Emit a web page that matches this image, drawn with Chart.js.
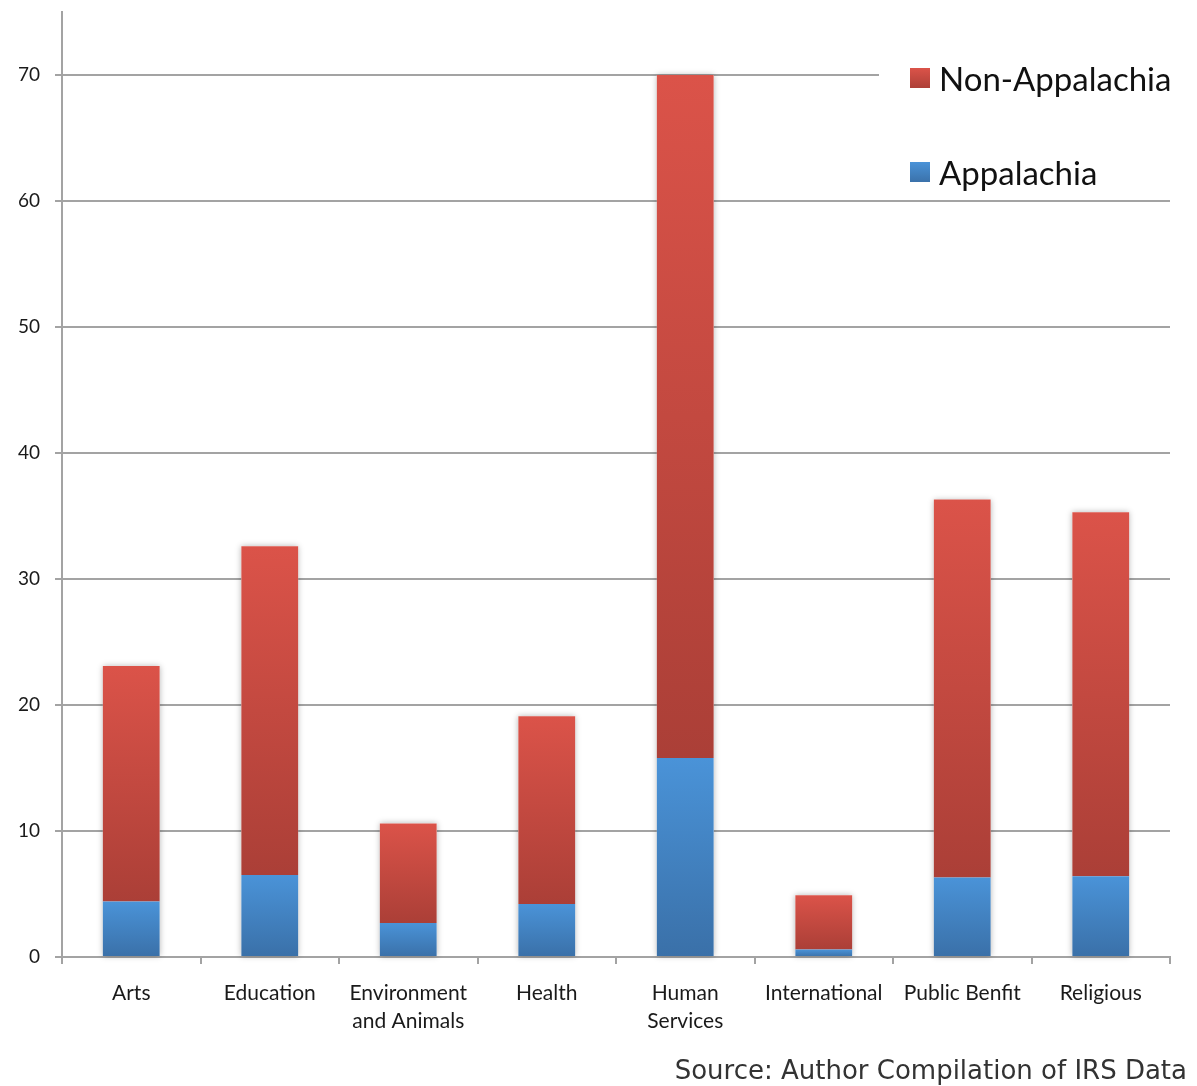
<!DOCTYPE html>
<html>
<head>
<meta charset="utf-8">
<script src="https://cdn.jsdelivr.net/npm/chart.js@4.4.1/dist/chart.umd.min.js"></script>
<style>
  html, body { margin: 0; padding: 0; background: #ffffff; }
  #wrap { position: relative; width: 1197px; height: 1086px; }
</style>
</head>
<body>
<div id="wrap"><canvas id="chart" width="1197" height="1086"></canvas></div>
<script>
// Nonprofit counts by sector, split by region
const categories = ["Arts", "Education", ["Environment", "and Animals"], "Health",
                    ["Human", "Services"], "International", "Public Benfit", "Religious"];
const appalachia    = [4.4, 6.5, 2.7, 4.2, 15.8, 0.6, 6.3, 6.4];
const nonAppalachia = [18.7, 26.1, 7.9, 14.9, 54.2, 4.3, 30.0, 28.9];
const yTicks = [0, 10, 20, 30, 40, 50, 60, 70];
const seriesNames = ["Appalachia", "Non-Appalachia"];
const sourceNote = "Source: Author Compilation of IRS Data";

const BODY_FONT = "Lato, 'Open Sans', sans-serif";
const AXIS_GREY = "#a3a3a3";

const palette = {
  blue: { top: "#4a93d8", bottom: "#3a70a8" },
  red:  { top: "#db5349", bottom: "#ab3f37" }
};

// Vertical gradient spanning one stacked segment
function segmentFill(colors, lowerOf) {
  return function (ctx) {
    const chart = ctx.chart;
    if (ctx.type !== "data" || !chart.chartArea) return colors.top;
    const y = chart.scales.y;
    const i = ctx.dataIndex;
    const base = lowerOf(i);
    const top = base + ctx.dataset.data[i];
    const y0 = y.getPixelForValue(base);
    const y1 = y.getPixelForValue(top);
    if (!isFinite(y0) || !isFinite(y1) || y0 === y1) return colors.top;
    const g = chart.ctx.createLinearGradient(0, y1, 0, y0);
    g.addColorStop(0, colors.top);
    g.addColorStop(1, colors.bottom);
    return g;
  };
}

// Soft shadow behind each full stacked column
const columnShadow = {
  id: "columnShadow",
  beforeDatasetsDraw(chart) {
    const metaA = chart.getDatasetMeta(0);
    const metaB = chart.getDatasetMeta(1);
    const c = chart.ctx;
    c.save();
    c.shadowColor = "rgba(0,0,0,0.28)";
    c.shadowBlur = 6;
    c.fillStyle = "#ffffff";
    metaA.data.forEach((bar, i) => {
      const topBar = metaB.data[i];
      const half = bar.width / 2;
      const yTop = topBar.y;
      const yBot = bar.base;
      c.fillRect(bar.x - half, yTop, bar.width, yBot - yTop);
    });
    c.restore();
  }
};

// Legend inside the plot, top right, and the source line
const sideNotes = {
  id: "sideNotes",
  afterDraw(chart) {
    const c = chart.ctx;
    c.save();
    c.fillStyle = "#ffffff";
    c.fillRect(879, 56, 300, 138);
    const items = [
      { label: seriesNames[1], colors: palette.red,  y: 79 },
      { label: seriesNames[0], colors: palette.blue, y: 173 }
    ];
    items.forEach(it => {
      const g = c.createLinearGradient(0, it.y - 11, 0, it.y + 10);
      g.addColorStop(0, it.colors.top);
      g.addColorStop(1, it.colors.bottom);
      c.fillStyle = g;
      c.fillRect(910, it.y - 11, 20, 20);
      c.fillStyle = "#111111";
      c.font = "33px " + BODY_FONT;
      c.textBaseline = "middle";
      c.textAlign = "left";
      c.fillText(it.label, 939, it.y + 1);
    });
    c.fillStyle = "#333333";
    c.font = "26px 'DejaVu Sans', Verdana, sans-serif";
    c.textAlign = "right";
    c.textBaseline = "middle";
    c.fillText(sourceNote, 1187, 1072);
    c.restore();
  }
};

new Chart(document.getElementById("chart"), {
  type: "bar",
  data: {
    labels: categories,
    datasets: [
      {
        label: seriesNames[0],
        data: appalachia,
        backgroundColor: segmentFill(palette.blue, () => 0),
        borderWidth: 0
      },
      {
        label: seriesNames[1],
        data: nonAppalachia,
        backgroundColor: segmentFill(palette.red, i => appalachia[i]),
        borderWidth: 0
      }
    ]
  },
  options: {
    responsive: false,
    animation: false,
    devicePixelRatio: 1,
    layout: { padding: { top: 12, right: 27, bottom: 0, left: 0 } },
    datasets: { bar: { categoryPercentage: 1.0, barPercentage: 0.41 } },
    plugins: {
      legend: { display: false },
      tooltip: { enabled: false },
      title: { display: false }
    },
    scales: {
      x: {
        stacked: true,
        offset: true,
        afterFit(scale) { scale.height = 129; },
        border: { color: AXIS_GREY, width: 2 },
        grid: {
          offset: true,
          drawOnChartArea: false,
          drawTicks: true,
          tickLength: 7,
          color: AXIS_GREY,
          lineWidth: 2
        },
        ticks: {
          color: "#1a1a1a",
          font: { family: BODY_FONT, size: 21, lineHeight: 1.35 },
          padding: 15,
          maxRotation: 0,
          autoSkip: false
        }
      },
      y: {
        stacked: true,
        min: 0,
        max: 75,
        afterFit(scale) {
          scale.width = 62;
          scale.paddingTop = 0;
          scale.paddingBottom = 0;
        },
        afterBuildTicks(scale) {
          scale.ticks = yTicks.map(v => ({ value: v }));
        },
        border: { color: AXIS_GREY, width: 2 },
        grid: {
          color: AXIS_GREY,
          lineWidth: 2,
          tickLength: 7,
          drawTicks: true
        },
        ticks: {
          color: "#1a1a1a",
          font: { family: BODY_FONT, size: 19 },
          padding: 15
        }
      }
    }
  },
  plugins: [columnShadow, sideNotes]
});
</script>
</body>
</html>
